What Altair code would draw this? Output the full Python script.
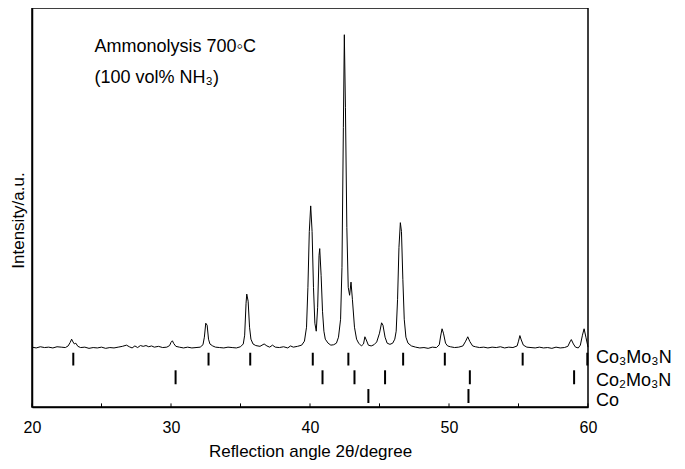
import altair as alt
import pandas as pd

# ---- XRD pattern (2theta in degrees, intensity in a.u.) ----
angle = [
    20.0, 20.3, 20.6, 20.9, 21.2, 21.5, 21.8, 22.1, 22.4, 22.6, 22.75, 22.85, 22.95, 23.05, 23.15, 23.3,
    23.5, 23.8, 24.1, 24.4, 24.7, 25.0, 25.3, 25.6, 25.9, 26.2, 26.5, 26.8, 27.0, 27.2, 27.4, 27.6,
    27.8, 28.0, 28.2, 28.4, 28.6, 28.8, 29.1, 29.4, 29.7, 29.9, 30.0, 30.1, 30.2, 30.35, 30.6, 30.9,
    31.2, 31.5, 31.8, 32.1, 32.3, 32.4, 32.5, 32.6, 32.7, 32.8, 33.0, 33.2, 33.5, 33.8, 34.1, 34.4,
    34.7, 35.0, 35.2, 35.3, 35.4, 35.45, 35.55, 35.65, 35.75, 35.9, 36.1, 36.4, 36.7, 36.9, 37.1, 37.3,
    37.5, 37.8, 38.1, 38.4, 38.6, 38.8, 39.1, 39.4, 39.6, 39.75, 39.85, 39.95, 40.05, 40.15, 40.25, 40.35,
    40.45, 40.55, 40.65, 40.7, 40.8, 40.9, 41.0, 41.1, 41.3, 41.5, 41.7, 41.9, 42.05, 42.2, 42.3, 42.4,
    42.47, 42.55, 42.65, 42.75, 42.85, 42.95, 43.05, 43.2, 43.35, 43.5, 43.7, 43.85, 43.95, 44.05, 44.2, 44.4,
    44.6, 44.8, 45.0, 45.15, 45.25, 45.4, 45.55, 45.75, 45.95, 46.1, 46.2, 46.3, 46.4, 46.5, 46.58, 46.68,
    46.78, 46.9, 47.05, 47.3, 47.6, 47.9, 48.2, 48.5, 48.8, 49.1, 49.3, 49.4, 49.5, 49.6, 49.75, 49.9,
    50.1, 50.4, 50.7, 51.0, 51.2, 51.35, 51.5, 51.7, 51.9, 52.2, 52.5, 52.8, 53.1, 53.4, 53.7, 54.0,
    54.3, 54.6, 54.9, 55.0, 55.1, 55.2, 55.35, 55.6, 55.9, 56.2, 56.5, 56.8, 57.1, 57.4, 57.7, 58.0,
    58.3, 58.55, 58.7, 58.8, 58.95, 59.1, 59.3, 59.45, 59.6, 59.72, 59.85, 60.0,
]
intensity = [
    15.0, 14.8, 15.1, 14.9, 15.0, 14.8, 15.1, 15.0, 14.9, 15.3, 16.2, 17.0, 16.3, 15.8, 16.0, 15.2,
    14.9, 15.0, 14.7, 14.9, 14.8, 15.0, 14.7, 14.9, 14.8, 15.0, 15.2, 15.5, 15.1, 14.8, 15.3, 14.9,
    15.4, 15.2, 15.4, 15.1, 15.3, 15.0, 15.2, 14.9, 15.0, 15.4, 16.2, 16.6, 15.9, 15.2, 15.0, 14.8,
    15.0, 14.8, 14.9, 15.0, 15.6, 17.5, 21.0, 20.5, 17.0, 15.8, 15.3, 15.0, 14.9, 14.8, 15.0, 14.9,
    14.8, 15.1, 15.8, 18.0, 26.0, 28.3, 26.5, 20.0, 17.0, 15.8, 15.4, 15.2, 15.8, 15.3, 15.0, 15.5,
    15.0, 14.9, 15.1, 14.8, 15.3, 15.0, 15.2, 15.5, 16.5, 20.0, 30.0, 44.0, 50.4, 44.0, 30.0, 21.0,
    19.0, 25.0, 38.0, 39.7, 33.0, 24.0, 19.0, 17.0, 16.0, 15.5, 15.6, 16.0, 17.5, 22.0, 35.0, 70.0,
    93.3, 75.0, 45.0, 30.0, 28.0, 31.3, 27.0, 20.0, 17.0, 16.0, 15.3, 15.8, 17.6, 16.8, 15.5, 15.3,
    15.6, 16.3, 18.5, 21.1, 20.5, 17.5, 16.0, 15.7, 16.0, 17.0, 19.0, 27.0, 40.0, 46.2, 44.0, 32.0,
    22.0, 17.5, 16.0, 15.3, 15.0, 14.8, 14.9, 14.7, 15.0, 14.9, 15.6, 17.8, 19.6, 18.5, 16.0, 15.3,
    15.1, 14.9, 15.0, 15.3, 16.5, 17.6, 16.4, 15.3, 15.1, 14.9, 15.0, 14.8, 15.0, 14.9, 15.1, 14.8,
    15.0, 14.9, 15.3, 16.5, 17.9, 16.8, 15.5, 15.0, 14.9, 14.8, 15.0, 14.8, 14.9, 14.7, 15.0, 14.8,
    14.9, 15.2, 16.3, 16.9, 15.8, 15.0, 14.8, 15.5, 18.0, 19.6, 17.5, 15.0,
]

# ---- reference reflection positions (2theta) for each phase ----
co3mo3n_pos = [22.97, 32.7, 35.7, 40.2, 42.76, 46.7, 49.7, 55.3, 59.95]
co2mo3n_pos = [30.33, 40.9, 43.2, 45.4, 51.5, 59.0]
co_pos = [44.2, 51.4]

phase_names = ["Co₃Mo₃N", "Co₂Mo₃N", "Co"]
x_ticks = [20, 30, 40, 50, 60]
minor_ticks = [20, 25, 30, 35, 40, 45, 50, 55, 60]
note_lines = ["Ammonolysis 700◦C", "(100 vol% NH₃)"]

# layout levels (in intensity-axis units) for the stick rows, labels and note
row_span = {"Co₃Mo₃N": (10.4, 13.6), "Co₂Mo₃N": (5.7, 9.2), "Co": (1.0, 4.5)}
label_level = {"Co₃Mo₃N": 12.2, "Co₂Mo₃N": 6.6, "Co": 1.6}
note_x = 24.5
note_levels = [90.3, 82.4]

FONT = "Liberation Sans"

curve = pd.DataFrame({"angle": angle, "intensity": intensity})

rows = []
for name, plist in zip(phase_names, [co3mo3n_pos, co2mo3n_pos, co_pos]):
    lo, hi = row_span[name]
    for p in plist:
        rows.append({"phase": name, "angle": p, "y1": lo, "y2": hi})
sticks = pd.DataFrame(rows)

labels = pd.DataFrame({"phase": phase_names, "angle": [60.0] * 3,
                       "y": [label_level[n] for n in phase_names]})
notes = pd.DataFrame({"text": note_lines, "angle": [note_x] * 2, "y": note_levels})
mticks = pd.DataFrame({"angle": minor_ticks, "y1": [0.0] * len(minor_ticks),
                       "y2": [0.9] * len(minor_ticks)})

xscale = alt.Scale(domain=[20, 60], nice=False, zero=False)
yscale = alt.Scale(domain=[0, 100], nice=False, zero=False)

xaxis = alt.Axis(values=x_ticks, title="Reflection angle 2θ/degree", grid=False,
                 ticks=False, labelPadding=12, labelFontSize=16, labelFlush=False,
                 titleFontSize=17, titleY=49, titleBaseline="alphabetic",
                 domainColor="black", domainWidth=1.5, labelColor="black",
                 titleColor="black", titleFontWeight="normal", labelFont=FONT,
                 titleFont=FONT)
yaxis = alt.Axis(title="Intensity/a.u.", labels=False, ticks=False, grid=False,
                 titleX=-14, titleY=212, titleAngle=-90, titleAlign="center",
                 titleBaseline="middle", titleFontSize=17, titleFontWeight="normal",
                 titleColor="black", titleFont=FONT, domainColor="black", domainWidth=1.5)

line = alt.Chart(curve).mark_line(color="black", strokeWidth=1).encode(
    x=alt.X("angle:Q", scale=xscale, axis=xaxis),
    y=alt.Y("intensity:Q", scale=yscale, axis=yaxis),
)

stick_layer = alt.Chart(sticks).mark_rule(color="black", strokeWidth=2).encode(
    x=alt.X("angle:Q", scale=xscale),
    y=alt.Y("y1:Q", scale=yscale),
    y2="y2:Q",
)

tick_layer = alt.Chart(mticks).mark_rule(color="black", strokeWidth=1).encode(
    x=alt.X("angle:Q", scale=xscale),
    y=alt.Y("y1:Q", scale=yscale),
    y2="y2:Q",
)

label_layer = alt.Chart(labels).mark_text(
    align="left", baseline="middle", dx=8, fontSize=18, font=FONT, color="black", clip=False
).encode(
    x=alt.X("angle:Q", scale=xscale),
    y=alt.Y("y:Q", scale=yscale),
    text="phase:N",
)

note_layer = alt.Chart(notes).mark_text(
    align="left", baseline="middle", fontSize=18, font=FONT, color="black"
).encode(
    x=alt.X("angle:Q", scale=xscale),
    y=alt.Y("y:Q", scale=yscale),
    text="text:N",
)

chart = alt.layer(line, stick_layer, tick_layer, label_layer, note_layer).properties(
    width=556, height=399,
    autosize=alt.AutoSizeParams(type="none"),
    padding={"left": 24, "top": 0, "right": 89, "bottom": 54},
).configure_view(stroke="black", strokeWidth=1.5)

chart.save("out.html", embed_options={"renderer": "svg", "actions": False})
